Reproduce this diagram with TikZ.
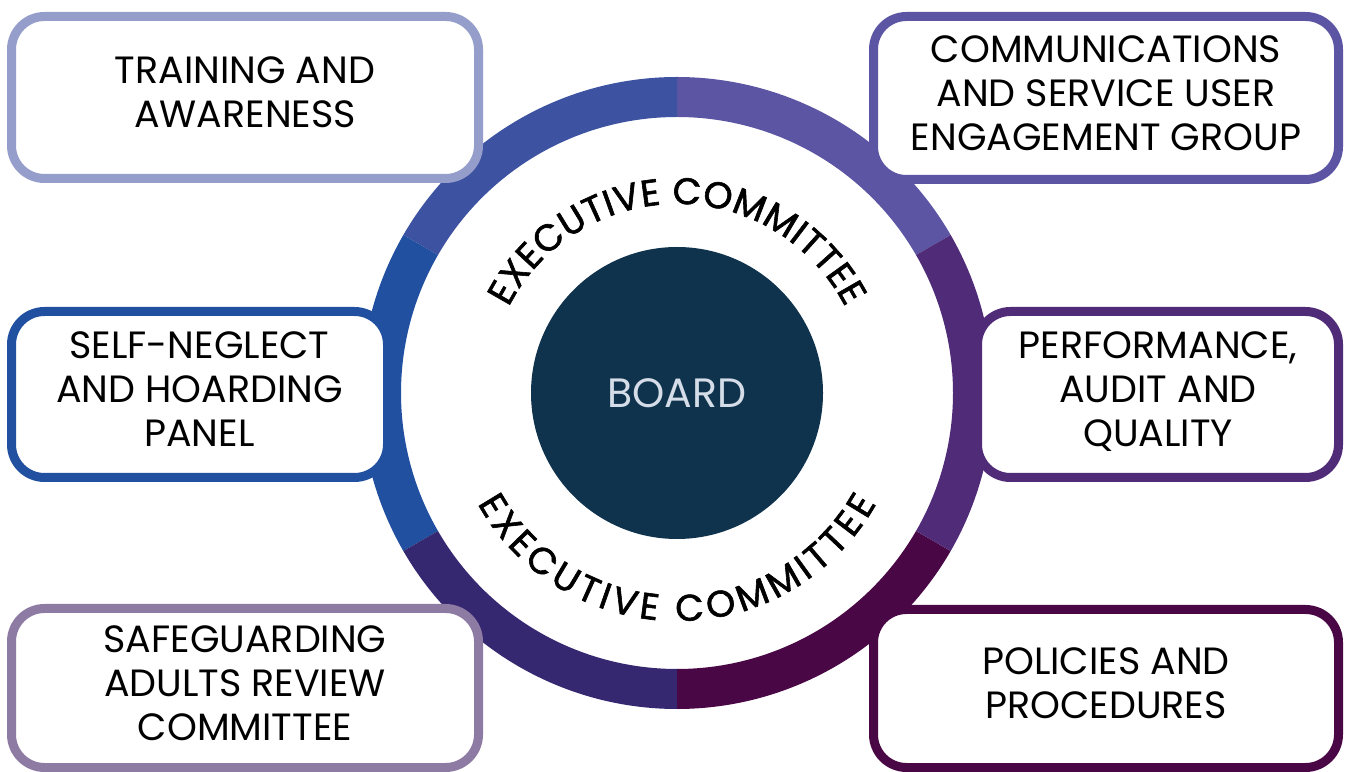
\documentclass[tikz,border=0pt]{standalone}
\usepackage{fontspec}
\setmainfont{Poppins}
\newfontfamily\ringff[FakeBold=1.6]{Poppins}
\usetikzlibrary{decorations.text}
\definecolor{cTL}{RGB}{61,82,160}
\definecolor{cTR}{RGB}{91,85,163}
\definecolor{cR}{RGB}{79,43,120}
\definecolor{cBR}{RGB}{74,7,69}
\definecolor{cBL}{RGB}{53,39,112}
\definecolor{cL}{RGB}{33,80,160}
\definecolor{bTrain}{RGB}{149,157,203}
\definecolor{bSafe}{RGB}{142,123,163}
\definecolor{boardfill}{RGB}{16,51,77}
\definecolor{boardtext}{RGB}{213,221,232}
\newcommand\ringfont{\ringff\fontsize{37}{37}\selectfont}
\begin{document}
\begin{tikzpicture}[x=1pt,y=1pt,
  box/.style={draw, line width=9pt, rounded corners=33pt, fill=white, align=center,
    font=\fontsize{38}{44}\selectfont, text depth=10pt, inner sep=0pt},
  ringtext/.style={decorate, decoration={text along path, text={|\ringfont|#1}, text align=fit to path}}
]
\useasboundingbox (0,0) rectangle (1346,771);
\fill[white] (0,0) rectangle (1346,771);
% ring
\begin{scope}[shift={(677,378)}]
\foreach \a/\c in {30/cTR, 90/cTL, 150/cL, 210/cBL, 270/cBR, -30/cR}{
  \fill[\c] (\a:316) arc[start angle=\a, end angle=\a+60, radius=316]
     -- (\a+60:276) arc[start angle=\a+60, end angle=\a, radius=276] -- cycle;
}
\path[ringtext={EXECUTIVE COMMITTEE}] (153:189) arc[start angle=153, end angle=27, radius=189];
\path[ringtext={EXECUTIVE COMMITTEE}] (209:228) arc[start angle=209, end angle=331, radius=228];
\end{scope}
% center
\node[circle, fill=boardfill, minimum size=292pt, inner sep=0pt, text=boardtext,
  font=\fontsize{41}{48}\selectfont] (board) at (677,378) {BOARD};
% boxes
\node[box, draw=bTrain, minimum width=467pt, minimum height=162pt] (train) at (245,673.5) {TRAINING AND\\AWARENESS};
\node[box, draw=cTR, minimum width=465pt, minimum height=163pt] (comm) at (1106,673) {COMMUNICATIONS\\AND SERVICE USER\\ENGAGEMENT GROUP};
\node[box, draw=cL, minimum width=376pt, minimum height=166pt] (self) at (199.5,376.5) {SELF-NEGLECT\\AND HOARDING\\PANEL};
\node[box, draw=cR, minimum width=361pt, minimum height=166pt] (perf) at (1158,376.5) {PERFORMANCE,\\AUDIT AND\\QUALITY};
\node[box, draw=bSafe, minimum width=467pt, minimum height=159pt] (safe) at (245,83) {SAFEGUARDING\\ADULTS REVIEW\\COMMITTEE};
\node[box, draw=cBR, minimum width=465pt, minimum height=158pt] (pol) at (1106,82.5) {POLICIES AND\\PROCEDURES};
\end{tikzpicture}
\end{document}
